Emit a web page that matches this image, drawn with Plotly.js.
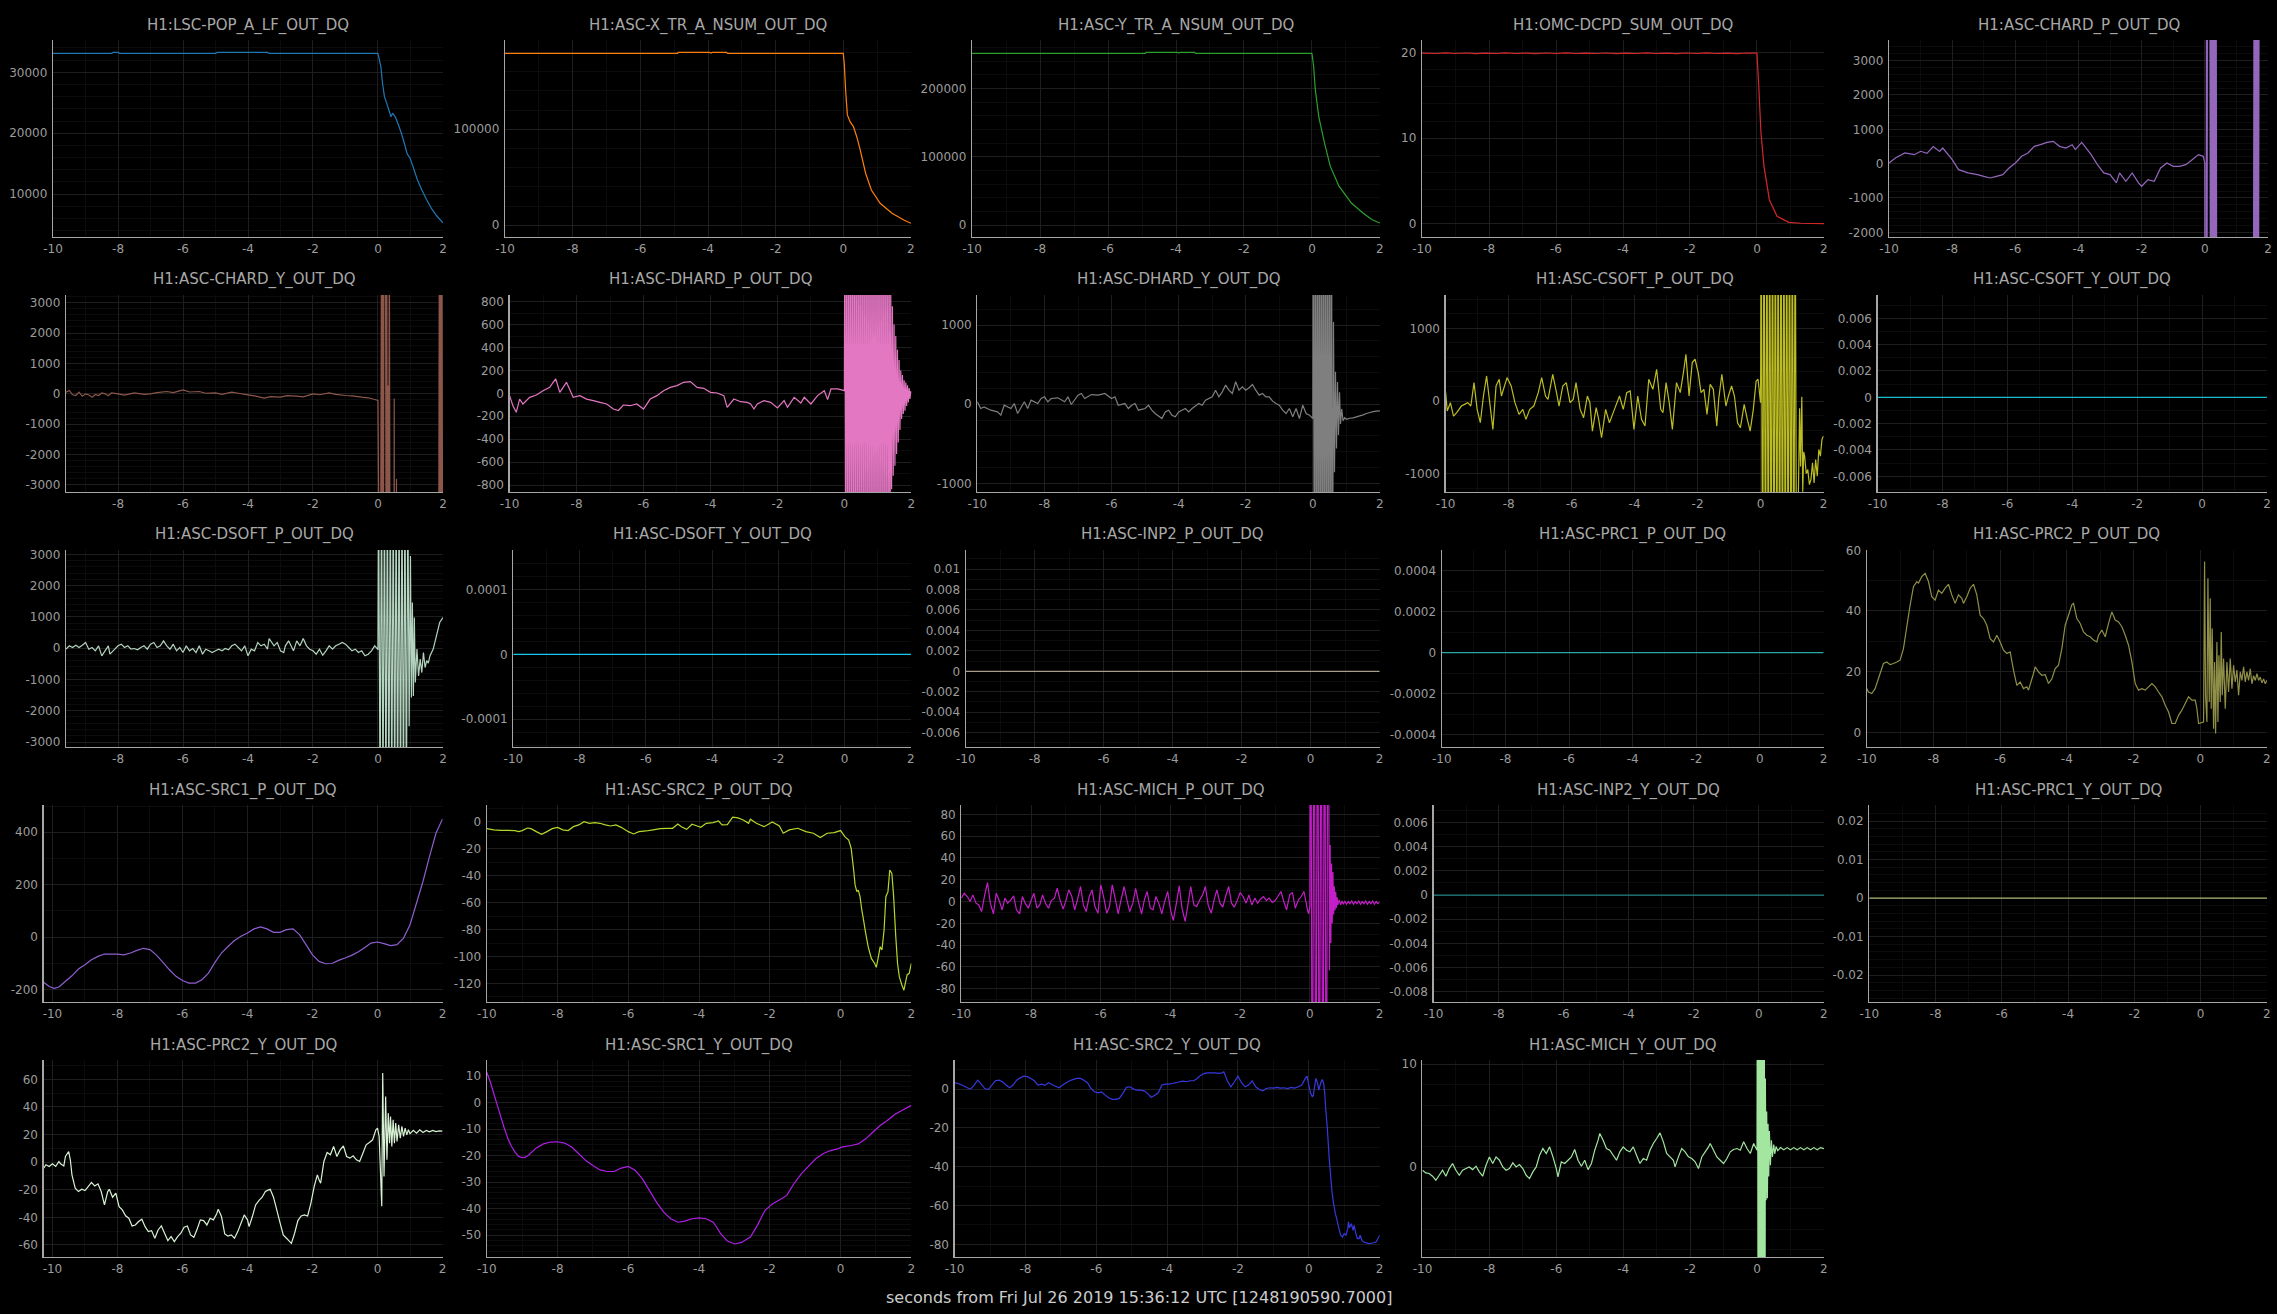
<!DOCTYPE html>
<html><head><meta charset="utf-8">
<script src="https://cdn.plot.ly/plotly-3.0.1.min.js"></script>
<style>html,body{margin:0;padding:0;background:#000;}#chart{width:2277px;height:1314px;}</style>
</head><body><div id="chart"></div>
<script>
// ---------- data: [seconds, value] pairs ----------
const lscPop=[[-10,33110],[-8.2,33110],[-8.15,33270],[-8.0,33270],[-7.95,33110],[-5.0,33110],[-4.95,33270],[-3.4,33270],[-3.35,33110],[0,33110],[0.09,30900],[0.14,28200],[0.2,26000],[0.27,24900],[0.32,24100],[0.4,22700],[0.45,23300],[0.54,22600],[0.63,21400],[0.72,20000],[0.81,18400],[0.9,16600],[0.99,15900],[1.08,14500],[1.21,12400],[1.35,10700],[1.5,9100],[1.64,7700],[1.8,6500],[2.0,5300]];
const xTrNsum=[[-10,179100],[-4.9,179100],[-4.88,180100],[-3.95,180100],[-3.92,179300],[-3.88,180100],[-3.45,180100],[-3.42,179100],[0,179100],[0.03,168000],[0.07,140000],[0.12,115000],[0.2,108000],[0.3,102800],[0.4,92000],[0.5,78500],[0.66,54200],[0.83,36800],[1.09,22900],[1.44,12500],[1.79,5560],[2.0,2080]];
const yTrNsum=[[-10,251700],[-4.9,251700],[-4.88,253200],[-3.95,253200],[-3.92,252000],[-3.88,253200],[-3.45,253200],[-3.42,251700],[0,251700],[0.05,232000],[0.1,198000],[0.2,159000],[0.37,120000],[0.54,85900],[0.8,56600],[1.16,32200],[1.5,17600],[1.77,7800],[2.0,2900]];
const omcDcpd=[[-10,19.95],[-9.6,19.9],[-9.3,19.97],[-9.0,19.9],[-8.7,19.96],[-8.4,19.88],[-8.1,19.95],[-7.8,19.9],[-7.5,19.97],[-7.2,19.9],[-6.9,19.95],[-6.6,19.88],[-6.3,19.96],[-6.0,19.9],[-5.7,19.97],[-5.4,19.9],[-5.1,19.95],[-4.8,19.9],[-4.5,19.96],[-4.2,19.89],[-3.9,19.95],[-3.6,19.9],[-3.3,19.97],[-3.0,19.9],[-2.7,19.95],[-2.4,19.88],[-2.1,19.96],[-1.8,19.9],[-1.5,19.97],[-1.2,19.9],[-0.9,19.95],[-0.6,19.88],[-0.3,19.96],[0,19.95],[0.05,16.4],[0.12,10.6],[0.21,6.7],[0.37,2.8],[0.6,0.86],[0.95,0.16],[1.3,0.05],[2.0,0.0]];
const chardP=[[-10,20],[-9.8,165],[-9.5,310],[-9.2,260],[-9.0,360],[-8.8,300],[-8.6,500],[-8.4,355],[-8.3,455],[-8.0,116],[-7.8,-175],[-7.5,-270],[-7.2,-320],[-7.0,-370],[-6.8,-417],[-6.6,-370],[-6.4,-320],[-6.2,-126],[-6.0,20],[-5.8,213],[-5.6,310],[-5.4,504],[-5.2,552],[-5.0,620],[-4.8,650],[-4.6,504],[-4.4,455],[-4.2,552],[-4.1,410],[-3.9,620],[-3.8,504],[-3.6,262],[-3.4,-29],[-3.2,-271],[-3.0,-320],[-2.8,-562],[-2.7,-271],[-2.5,-513],[-2.3,-271],[-2.1,-562],[-2.0,-659],[-1.8,-465],[-1.6,-513],[-1.4,-126],[-1.2,20],[-1.0,-77],[-0.8,-77],[-0.6,-29],[-0.4,116],[-0.2,262],[-0.05,213],[0,20],
 [0.005,-6000],[0.04,-6000],[0.055,6000],[0.07,-6000],[0.085,6000],[0.16,6000],[0.18,-6000],[0.2,6000],[0.22,-6000],[0.24,6000],[0.26,-6000],[0.28,6000],[0.3,-6000],[0.32,6000],[0.34,-6000],[0.36,6000],[0.38,-6000],[1.54,-6000],[1.56,6000],[1.58,-6000],[1.6,6000],[1.62,-6000],[1.64,6000],[1.66,-6000],[1.68,6000],[1.7,-6000],[1.72,6000],[2.0,6000]];
const chardY=[[-9.6,55],[-9.5,110],[-9.4,-30],[-9.3,-55],[-9.2,55],[-9.1,-80],[-9.0,0],[-8.9,-40],[-8.8,-110],[-8.7,-20],[-8.6,-55],[-8.5,30],[-8.4,0],[-8.3,-60],[-8.2,33],[-8.0,0],[-7.8,-40],[-7.5,33],[-7.2,-20],[-7.0,0],[-6.8,40],[-6.5,77],[-6.3,40],[-6.0,132],[-5.8,60],[-5.5,77],[-5.3,20],[-5.0,33],[-4.8,-20],[-4.5,55],[-4.3,20],[-4.0,-33],[-3.8,-70],[-3.5,-143],[-3.3,-90],[-3.0,-110],[-2.8,-60],[-2.5,-77],[-2.3,-100],[-2.0,0],[-1.8,-30],[-1.5,33],[-1.3,-20],[-1.0,-55],[-0.8,-70],[-0.5,-110],[-0.3,-130],[-0.1,-187],[0,-220],
 [0.04,-6000],[0.08,-6000],[0.11,6000],[0.13,-6000],[0.15,6000],[0.17,-6000],[0.185,6000],[0.23,6000],[0.25,-6000],[0.27,6000],[0.29,-6000],[0.31,275],[0.33,-6000],[0.35,6000],[0.37,-6000],[0.495,-6000],[0.5,-150],[0.505,-6000],[0.565,-6000],[0.57,-2800],[0.575,-6000],[1.87,-6000],[1.89,6000],[1.91,-6000],[1.93,6000],[1.95,-6000],[1.97,6000],[1.99,-6000],[2.0,-2360]];
const dhardP=[[-10,-20],[-9.9,-108],[-9.8,-166],[-9.7,-50],[-9.6,-93],[-9.4,-35],[-9.2,-15],[-9.0,23],[-8.8,52],[-8.7,96],[-8.62,125],[-8.5,9],[-8.4,52],[-8.3,96],[-8.1,-35],[-7.9,-20],[-7.7,-50],[-7.5,-64],[-7.3,-79],[-7.1,-93],[-6.9,-137],[-6.75,-150],[-6.6,-102],[-6.4,-108],[-6.2,-93],[-6.0,-137],[-5.8,-50],[-5.6,-20],[-5.4,23],[-5.2,52],[-5.0,67],[-4.8,96],[-4.6,102],[-4.4,52],[-4.2,44],[-4.0,9],[-3.8,3],[-3.6,-20],[-3.5,-122],[-3.3,-50],[-3.1,-73],[-2.9,-79],[-2.8,-93],[-2.7,-137],[-2.6,-93],[-2.4,-64],[-2.2,-79],[-2.0,-128],[-1.8,-64],[-1.7,-122],[-1.5,-35],[-1.3,-85],[-1.2,-35],[-1.0,-93],[-0.8,-20],[-0.6,23],[-0.5,-55],[-0.4,38],[-0.2,38],[0,23],
 [0.015,2000],[0.045,-2000],[0.075,2000],[0.105,-2000],[0.135,2000],[0.165,-2000],[0.195,2000],[0.225,-2000],[0.255,2000],[0.285,-2000],[0.315,2000],[0.345,-2000],[0.375,2000],[0.405,-2000],[0.435,2000],[0.465,-2000],[0.495,2000],[0.525,-2000],[0.555,2000],[0.585,-2000],[0.615,2000],[0.645,-2000],[0.675,2000],[0.705,-2000],[0.735,2000],[0.765,-2000],[0.795,2000],[0.825,-2000],[0.855,2000],[0.885,-2000],[0.915,2000],[0.945,-2000],[0.975,2000],[1.005,-2000],[1.035,2000],[1.065,-2000],[1.095,2000],[1.125,-2000],[1.155,2000],[1.185,-2000],[1.215,2000],[1.245,-2000],[1.275,2000],[1.305,-2000],[1.335,2000],
 [1.36,-2000],[1.385,900],[1.41,-836],[1.435,760],[1.46,-720],[1.485,600],[1.51,-633],[1.535,500],[1.56,-530],[1.585,380],[1.61,-428],[1.635,290],[1.66,-320],[1.685,200],[1.71,-224],[1.735,160],[1.76,-180],[1.785,115],[1.81,-151],[1.835,95],[1.86,-110],[1.885,70],[1.91,-79],[1.935,45],[1.96,-50],[1.985,20],[2.0,0]];
const dhardY=[[-10,30],[-9.9,-55],[-9.8,-34],[-9.6,-76],[-9.4,-97],[-9.3,-139],[-9.2,-13],[-9.0,-55],[-8.9,8],[-8.8,-118],[-8.6,30],[-8.5,-55],[-8.4,51],[-8.2,8],[-8.1,72],[-8.0,93],[-7.9,30],[-7.8,72],[-7.6,80],[-7.4,30],[-7.3,93],[-7.2,-4],[-7.0,114],[-6.9,135],[-6.8,72],[-6.6,122],[-6.4,114],[-6.2,135],[-6.0,72],[-5.9,93],[-5.8,-13],[-5.6,8],[-5.5,-55],[-5.4,-13],[-5.3,8],[-5.2,-76],[-5.0,-55],[-4.9,-13],[-4.8,-76],[-4.7,-118],[-4.5,-181],[-4.4,-97],[-4.3,-76],[-4.2,-139],[-4.1,-160],[-4.0,-97],[-3.8,-55],[-3.7,-97],[-3.6,-55],[-3.4,8],[-3.3,-13],[-3.2,51],[-3.0,93],[-2.9,177],[-2.8,93],[-2.7,156],[-2.6,241],[-2.5,177],[-2.4,135],[-2.3,283],[-2.2,177],[-2.1,219],[-2.0,177],[-1.9,207],[-1.8,249],[-1.7,177],[-1.6,114],[-1.5,135],[-1.4,93],[-1.3,93],[-1.2,38],[-1.1,8],[-1.0,-13],[-0.9,-76],[-0.8,-118],[-0.7,-55],[-0.6,-160],[-0.5,-55],[-0.4,-181],[-0.3,-13],[-0.2,-118],[-0.1,-139],[0,-181],
 [0.015,3000],[0.045,-3000],[0.075,3000],[0.105,-3000],[0.135,3000],[0.165,-3000],[0.195,3000],[0.225,-3000],[0.255,3000],[0.285,-3000],[0.315,3000],[0.345,-3000],[0.375,3000],[0.405,-3000],[0.435,3000],[0.465,-3000],[0.495,3000],[0.525,-3000],[0.555,3000],
 [0.585,-3000],[0.615,1040],[0.645,-860],[0.675,409],[0.705,-560],[0.735,280],[0.765,-390],[0.795,150],[0.825,-250],[0.86,-60],[0.9,-210],[0.95,-170],[1.0,-190],[1.1,-178],[1.2,-172],[1.3,-160],[1.4,-148],[1.5,-135],[1.6,-118],[1.7,-105],[1.8,-95],[1.9,-88],[2.0,-84]];
const csoftP=[[-10,115],[-9.95,-138],[-9.85,-23],[-9.75,-207],[-9.65,-161],[-9.5,-69],[-9.4,-46],[-9.3,-23],[-9.2,-69],[-9.1,253],[-9.0,-115],[-8.9,-299],[-8.8,69],[-8.7,345],[-8.6,-23],[-8.5,-391],[-8.4,207],[-8.3,299],[-8.23,69],[-8.05,322],[-7.92,207],[-7.8,-23],[-7.67,-184],[-7.55,-115],[-7.45,-253],[-7.33,-115],[-7.2,-69],[-7.06,115],[-6.95,322],[-6.83,69],[-6.75,23],[-6.6,368],[-6.48,115],[-6.4,-69],[-6.28,207],[-6.17,253],[-6.05,-23],[-5.95,23],[-5.86,253],[-5.73,-115],[-5.62,-230],[-5.5,69],[-5.42,-23],[-5.34,-414],[-5.22,-92],[-5.14,-253],[-5.05,-506],[-4.92,-115],[-4.8,-299],[-4.64,-115],[-4.48,69],[-4.36,-115],[-4.25,115],[-4.14,138],[-4.02,-391],[-3.9,69],[-3.78,-253],[-3.67,-345],[-3.55,299],[-3.42,161],[-3.3,437],[-3.17,-115],[-3.1,-161],[-3.0,253],[-2.9,-23],[-2.8,-391],[-2.67,253],[-2.55,115],[-2.45,391],[-2.37,644],[-2.27,69],[-2.17,529],[-2.08,575],[-1.98,391],[-1.89,115],[-1.8,161],[-1.7,-184],[-1.6,230],[-1.5,161],[-1.39,-345],[-1.33,23],[-1.23,368],[-1.1,-69],[-1.02,69],[-0.92,207],[-0.83,69],[-0.73,-299],[-0.64,-368],[-0.52,-46],[-0.42,-253],[-0.33,-414],[-0.23,-115],[-0.14,276],[-0.08,299],[0,-23],
 [0.02,3000],[0.065,-3000],[0.11,3000],[0.155,-3000],[0.2,3000],[0.245,-3000],[0.29,3000],[0.335,-3000],[0.38,3000],[0.425,-3000],[0.47,3000],[0.515,-3000],[0.56,3000],[0.605,-3000],[0.65,3000],[0.695,-3000],[0.74,3000],[0.785,-3000],[0.83,3000],[0.875,-3000],[0.92,3000],[0.965,-3000],[1.01,3000],[1.055,-3000],[1.1,3000],[1.145,-3000],
 [1.24,-100],[1.27,-900],[1.31,60],[1.34,-1250],[1.37,-700],[1.4,-759],[1.45,-1000],[1.5,-943],[1.55,-1150],[1.6,-1081],[1.65,-851],[1.7,-1127],[1.75,-805],[1.8,-1035],[1.85,-667],[1.9,-759],[1.95,-529],[2.0,-483]];
const csoftY=[[-10,0],[2,0]];
const dsoftP=[[-9.6,-32],[-9.5,75],[-9.4,21],[-9.3,96],[-9.2,21],[-9.1,96],[-9.0,181],[-8.9,-32],[-8.8,21],[-8.7,-85],[-8.6,75],[-8.5,-245],[-8.4,-85],[-8.3,75],[-8.25,-192],[-8.1,-32],[-8.0,75],[-7.9,128],[-7.8,21],[-7.7,75],[-7.6,-32],[-7.5,-11],[-7.4,-53],[-7.3,21],[-7.2,75],[-7.1,-32],[-7.0,128],[-6.9,181],[-6.8,21],[-6.7,75],[-6.6,235],[-6.5,75],[-6.4,-32],[-6.3,128],[-6.2,-85],[-6.1,21],[-6.0,-139],[-5.9,75],[-5.8,-85],[-5.7,-11],[-5.6,-139],[-5.5,75],[-5.4,-192],[-5.3,-32],[-5.2,-85],[-5.1,-139],[-5.0,-85],[-4.9,-32],[-4.8,-85],[-4.7,-11],[-4.6,-53],[-4.5,75],[-4.4,128],[-4.3,21],[-4.2,-85],[-4.1,75],[-4.0,-245],[-3.9,-32],[-3.8,-85],[-3.7,181],[-3.6,75],[-3.5,128],[-3.4,-32],[-3.35,309],[-3.2,75],[-3.1,181],[-3.0,-85],[-2.9,-139],[-2.85,75],[-2.75,235],[-2.65,21],[-2.6,-85],[-2.5,235],[-2.4,75],[-2.3,309],[-2.2,75],[-2.1,-32],[-2.0,-85],[-1.9,-192],[-1.8,-32],[-1.7,-224],[-1.6,-85],[-1.5,75],[-1.4,-32],[-1.3,75],[-1.2,128],[-1.1,181],[-1.0,128],[-0.9,21],[-0.8,-85],[-0.7,-32],[-0.6,-139],[-0.5,-85],[-0.4,-245],[-0.3,-192],[-0.2,-85],[-0.1,75],[0,-50],
 [0.02,5000],[0.065,-5000],[0.11,5000],[0.155,-5000],[0.2,5000],[0.245,-5000],[0.29,5000],[0.335,-5000],[0.38,5000],[0.425,-5000],[0.47,5000],[0.515,-5000],[0.56,5000],[0.605,-5000],[0.65,5000],[0.695,-5000],[0.74,5000],[0.785,-5000],[0.83,5000],[0.875,-5000],
 [0.92,5000],[0.96,-2500],[1.0,2950],[1.03,-1580],[1.06,1460],[1.09,-1530],[1.12,980],[1.15,-1100],[1.2,-30],[1.25,-885],[1.3,-350],[1.35,-780],[1.4,-140],[1.45,-620],[1.5,-400],[1.55,-480],[1.6,-250],[1.7,-30],[1.8,395],[1.9,820],[2.0,980]];
const dsoftY=[[-10,0],[2,0]];
const inp2P=[[-10,0],[2,0]];
const prc1P=[[-10,0],[2,0]];
const prc2P=[[-10,14.4],[-9.95,13.3],[-9.85,12.8],[-9.75,14.4],[-9.6,19.4],[-9.5,22.7],[-9.4,23.2],[-9.3,22.3],[-9.2,22.7],[-9.1,23.2],[-9.0,23.8],[-8.9,27.6],[-8.8,34.8],[-8.7,41.9],[-8.6,48.0],[-8.5,49.7],[-8.45,49.2],[-8.35,51.3],[-8.25,52.4],[-8.15,49.7],[-8.05,44.7],[-7.95,43.6],[-7.85,46.9],[-7.75,45.8],[-7.65,47.5],[-7.55,48.8],[-7.45,45.3],[-7.35,42.5],[-7.25,45.3],[-7.15,44.2],[-7.1,42.5],[-7.0,44.7],[-6.9,47.5],[-6.8,48.8],[-6.7,45.3],[-6.6,38.6],[-6.5,37.5],[-6.4,35.3],[-6.3,30.9],[-6.2,29.8],[-6.1,32.0],[-6.0,29.8],[-5.9,27.1],[-5.8,26.0],[-5.7,26.5],[-5.6,20.5],[-5.5,15.5],[-5.4,16.6],[-5.3,14.4],[-5.2,15.0],[-5.15,13.9],[-5.0,19.4],[-4.95,21.6],[-4.85,19.9],[-4.75,18.8],[-4.65,19.0],[-4.55,16.1],[-4.45,17.6],[-4.35,21.0],[-4.25,22.1],[-4.15,27.6],[-4.05,35.3],[-3.95,38.6],[-3.85,42.0],[-3.8,42.5],[-3.7,37.5],[-3.6,35.9],[-3.5,33.1],[-3.4,32.0],[-3.3,31.5],[-3.2,30.4],[-3.1,29.8],[-3.05,32.0],[-2.95,33.7],[-2.85,31.5],[-2.75,35.9],[-2.65,39.7],[-2.55,37.0],[-2.45,36.4],[-2.35,34.8],[-2.25,32.0],[-2.15,28.7],[-2.05,23.2],[-1.95,16.1],[-1.85,13.9],[-1.75,14.4],[-1.65,13.9],[-1.55,15.0],[-1.45,16.1],[-1.35,15.0],[-1.25,13.3],[-1.15,11.7],[-1.05,8.9],[-0.95,6.7],[-0.85,2.9],[-0.75,2.9],[-0.65,5.6],[-0.55,7.3],[-0.45,9.5],[-0.35,11.7],[-0.25,10.6],[-0.15,10.6],[-0.1,7.8],[-0.05,2.9],
 [0.1,3.4],[0.13,56.3],[0.16,12.1],[0.2,3.4],[0.23,50.8],[0.27,10.0],[0.3,44.2],[0.33,7.8],[0.36,34.2],[0.4,1.2],[0.43,23.2],[0.46,-0.4],[0.5,29.8],[0.53,3.4],[0.56,25.4],[0.6,10.0],[0.63,33.1],[0.66,12.2],[0.7,24.3],[0.75,7.8],[0.8,23.2],[0.85,13.3],[0.9,24.3],[0.95,14.4],[1.0,22.1],[1.05,16.6],[1.1,20.5],[1.15,12.2],[1.2,19.9],[1.25,17.1],[1.3,21.6],[1.35,16.6],[1.4,19.9],[1.45,17.1],[1.5,20.9],[1.55,16.0],[1.6,18.7],[1.65,17.1],[1.7,19.3],[1.75,17.1],[1.8,18.2],[1.85,16.3],[1.9,17.6],[1.95,16.0],[2.0,17.2]];
const src1P=[[-10.27,-173],[-10.1,-189],[-9.95,-196],[-9.8,-191],[-9.6,-169],[-9.4,-148],[-9.2,-122],[-9.0,-106],[-8.8,-87],[-8.6,-74],[-8.4,-65],[-8.2,-65],[-8.0,-65],[-7.8,-68],[-7.6,-61],[-7.4,-51],[-7.2,-43],[-7.0,-48],[-6.8,-69],[-6.6,-97],[-6.4,-125],[-6.2,-150],[-6.0,-166],[-5.8,-176],[-5.6,-176],[-5.4,-163],[-5.2,-138],[-5.0,-97],[-4.8,-61],[-4.6,-36],[-4.4,-13],[-4.2,3],[-4.0,15],[-3.8,31],[-3.6,39],[-3.4,31],[-3.2,18],[-3.0,18],[-2.8,28],[-2.6,31],[-2.4,9],[-2.2,-29],[-2.0,-68],[-1.8,-93],[-1.6,-102],[-1.4,-101],[-1.2,-89],[-1.0,-80],[-0.8,-70],[-0.6,-57],[-0.4,-41],[-0.2,-23],[0.0,-19],[0.2,-25],[0.4,-33],[0.6,-29],[0.8,-4],[1.0,47],[1.2,130],[1.4,213],[1.6,308],[1.8,397],[2.0,451]];
const src2P=[[-10,-5],[-9.8,-5.9],[-9.6,-6.2],[-9.4,-6.2],[-9.2,-6.4],[-9.1,-7.2],[-9.0,-6.4],[-8.85,-4.5],[-8.75,-5],[-8.6,-7.2],[-8.45,-9.2],[-8.3,-7.2],[-8.15,-5],[-8.0,-4],[-7.85,-5.9],[-7.7,-6.4],[-7.55,-3.5],[-7.4,-2.2],[-7.25,0.25],[-7.1,-1],[-6.95,-0.5],[-6.8,-1],[-6.65,-2.2],[-6.5,-3],[-6.35,-2.2],[-6.2,-4],[-6.0,-7.2],[-5.85,-8.9],[-5.7,-7.2],[-5.5,-6.7],[-5.3,-5.9],[-5.1,-5],[-4.9,-4.7],[-4.75,-4.7],[-4.6,-1.5],[-4.5,-3.5],[-4.35,-5.5],[-4.2,-1.7],[-4.05,-3],[-3.95,-4],[-3.8,-1],[-3.6,-0.5],[-3.45,0.7],[-3.35,-2.2],[-3.2,-2],[-3.05,3.5],[-2.9,3],[-2.75,1.5],[-2.6,-1],[-2.55,2],[-2.38,-1],[-2.16,-3.5],[-1.93,0],[-1.73,-3],[-1.62,-8.4],[-1.45,-5.9],[-1.21,-4.7],[-0.98,-7.2],[-0.77,-8.4],[-0.57,-11.6],[-0.38,-8.4],[-0.18,-7.9],[0,-6.4],[0.12,-10.9],[0.23,-13.4],[0.3,-19.6],[0.37,-35.7],[0.41,-46.8],[0.46,-51.8],[0.5,-50.6],[0.55,-55.5],[0.6,-65.4],[0.65,-72.9],[0.71,-82.8],[0.78,-92.7],[0.87,-101.4],[0.96,-105],[1.01,-108],[1.06,-101.4],[1.12,-92.7],[1.17,-95.2],[1.23,-80.3],[1.28,-55.5],[1.34,-51.8],[1.39,-35.7],[1.45,-38.2],[1.5,-55.5],[1.56,-85],[1.61,-105],[1.66,-115],[1.73,-121],[1.79,-125],[1.84,-118.7],[1.88,-113.7],[1.94,-112.5],[2.0,-105]];
const michP=[[-10,3.1],[-9.92,7.6],[-9.83,4.6],[-9.75,0],[-9.67,6.1],[-9.58,-1.5],[-9.5,-3.1],[-9.42,-9.2],[-9.33,6.1],[-9.25,17.4],[-9.17,-1.5],[-9.08,-11.3],[-9.0,7.6],[-8.92,1.5],[-8.83,-7.6],[-8.75,3.1],[-8.67,-1.5],[-8.58,1.5],[-8.5,5.2],[-8.42,-7.6],[-8.33,-11.3],[-8.25,4.6],[-8.17,-1.5],[-8.08,-6.1],[-8.0,0.9],[-7.92,7.6],[-7.83,-6.1],[-7.75,-3.1],[-7.67,6.1],[-7.58,-2.1],[-7.5,-6.1],[-7.42,0.9],[-7.33,3.1],[-7.25,12.2],[-7.17,1.5],[-7.08,-7.0],[-7.0,0.9],[-6.92,10.7],[-6.83,4.6],[-6.75,-7.6],[-6.67,1.5],[-6.58,13.8],[-6.5,-3.1],[-6.42,-9.2],[-6.33,4.6],[-6.25,10.7],[-6.17,-4.6],[-6.08,-10.7],[-6.0,15.3],[-5.92,4.6],[-5.83,-10.7],[-5.75,-4.6],[-5.67,15.3],[-5.58,1.5],[-5.5,-11.3],[-5.42,1.5],[-5.33,13.8],[-5.25,1.5],[-5.17,-9.2],[-5.08,-1.5],[-5.0,12.2],[-4.92,0],[-4.83,-11.3],[-4.75,1.5],[-4.67,9.2],[-4.58,-6.1],[-4.5,-7.6],[-4.42,4.6],[-4.33,-2.1],[-4.25,-11.3],[-4.17,0],[-4.08,9.2],[-4.0,-7.6],[-3.92,-17.4],[-3.83,-1.5],[-3.75,14.4],[-3.67,-6.1],[-3.58,-18.3],[-3.5,-3.1],[-3.42,13.8],[-3.33,-3.1],[-3.25,-4.6],[-3.17,0.9],[-3.08,6.1],[-3.0,13.8],[-2.92,-3.1],[-2.83,-10.7],[-2.75,1.5],[-2.67,10.7],[-2.58,-1.5],[-2.5,-5.2],[-2.42,4.6],[-2.33,13.8],[-2.25,-1.5],[-2.17,-5.2],[-2.08,1.5],[-2.0,8.3],[-1.92,4.6],[-1.83,-1.5],[-1.75,6.1],[-1.67,-3.1],[-1.58,3.1],[-1.5,-1.5],[-1.42,2.1],[-1.33,4.6],[-1.25,0.9],[-1.17,3.1],[-1.08,-0.9],[-1.0,0.9],[-0.92,4.6],[-0.83,9.2],[-0.75,0],[-0.67,-7.6],[-0.58,6.1],[-0.5,8.3],[-0.42,-6.1],[-0.33,1.5],[-0.25,4.6],[-0.17,9.2],[-0.08,-6.1],[-0.04,-11.3],[0,-4.6],
 [0.02,300],[0.07,-300],[0.12,300],[0.17,-300],[0.22,300],[0.27,-300],[0.32,300],[0.37,-300],[0.42,300],[0.47,-300],[0.52,300],
 [0.56,-63],[0.58,52],[0.6,-38],[0.62,35],[0.64,-20],[0.66,27],[0.68,-12],[0.7,14],[0.72,-8],[0.74,9],[0.76,-6],[0.78,4],[0.8,-3],[0.84,1.5],[0.88,-3],[0.92,0.5],[0.96,-2.5],[1.0,0.5],[1.05,-2.5],[1.1,0],[1.15,-2],[1.2,0.5],[1.25,-2.5],[1.3,0],[1.35,-2],[1.4,0.5],[1.45,-2.5],[1.5,0],[1.55,-2],[1.6,0.5],[1.65,-2.5],[1.7,0],[1.75,-2],[1.8,0.5],[1.85,-2.5],[1.9,0],[1.95,-2],[2.0,-0.5]];
const inp2Y=[[-10,0],[2,0]];
const prc1Y=[[-10,0],[2,0]];
const prc2Y=[[-10.27,-4.4],[-10.2,-1.9],[-10.1,-3.1],[-10.0,-1.2],[-9.9,-3.1],[-9.8,0.5],[-9.75,-1.2],[-9.65,-2.7],[-9.6,4.1],[-9.5,7.7],[-9.45,1.7],[-9.4,-9.2],[-9.3,-18.9],[-9.2,-21.3],[-9.1,-19.6],[-9.0,-20.6],[-8.9,-17.7],[-8.8,-14.7],[-8.7,-17.2],[-8.6,-15.7],[-8.5,-21.3],[-8.4,-31.0],[-8.3,-21.3],[-8.25,-19.6],[-8.15,-25.4],[-8.05,-22.5],[-7.95,-32.2],[-7.85,-34.6],[-7.75,-38.9],[-7.65,-40.6],[-7.55,-46.2],[-7.45,-45.5],[-7.35,-43.0],[-7.25,-41.3],[-7.15,-46.7],[-7.05,-50.3],[-6.95,-49.6],[-6.85,-55.1],[-6.75,-49.1],[-6.65,-46.2],[-6.55,-51.5],[-6.45,-56.8],[-6.35,-53.9],[-6.25,-57.5],[-6.15,-53.9],[-6.05,-51.5],[-5.95,-47.1],[-5.85,-46.2],[-5.75,-52.7],[-5.65,-54.4],[-5.55,-48.6],[-5.45,-41.8],[-5.35,-42.3],[-5.25,-45.5],[-5.15,-40.6],[-5.05,-41.8],[-4.95,-37.5],[-4.9,-34.1],[-4.8,-39.4],[-4.7,-52.0],[-4.6,-53.5],[-4.5,-52.7],[-4.4,-55.1],[-4.3,-50.3],[-4.2,-44.2],[-4.1,-38.2],[-4.0,-41.8],[-3.95,-46.7],[-3.85,-39.4],[-3.75,-31.0],[-3.65,-27.8],[-3.55,-25.4],[-3.45,-21.3],[-3.35,-20.1],[-3.3,-19.6],[-3.2,-25.4],[-3.1,-34.6],[-3.0,-43.8],[-2.9,-52.7],[-2.8,-55.1],[-2.7,-57.5],[-2.65,-58.8],[-2.55,-51.5],[-2.45,-42.3],[-2.35,-39.0],[-2.25,-38.2],[-2.15,-39.0],[-2.05,-29.8],[-1.95,-17.7],[-1.85,-9.2],[-1.8,-12.8],[-1.75,-15.2],[-1.65,0.5],[-1.55,7.0],[-1.45,5.3],[-1.35,11.4],[-1.25,4.1],[-1.15,8.9],[-1.05,11.8],[-0.95,4.1],[-0.85,2.9],[-0.75,4.6],[-0.65,1.7],[-0.55,0.5],[-0.45,6.5],[-0.35,12.6],[-0.25,14.3],[-0.15,16.2],[-0.05,23.5],[0.0,24.7],
 [0.05,18.6],[0.1,-12.8],[0.13,-32.0],[0.16,64.6],[0.2,-10.4],[0.25,47.6],[0.29,1.7],[0.33,35.5],[0.37,13.8],[0.4,33.1],[0.44,11.4],[0.48,30.7],[0.52,13.8],[0.56,28.3],[0.6,15.0],[0.65,27.1],[0.7,17.4],[0.75,25.9],[0.8,18.6],[0.85,24.7],[0.9,19.8],[0.95,23.5],[1.0,20.6],[1.1,23.0],[1.2,21.0],[1.3,23.5],[1.4,21.5],[1.5,23.0],[1.6,22.0],[1.7,23.0],[1.8,22.2],[1.9,22.7],[2.0,22.5]];
const src1Y=[[-10,11.4],[-9.9,7.7],[-9.8,3.3],[-9.7,-1.1],[-9.6,-5.5],[-9.5,-9.9],[-9.4,-13.7],[-9.3,-16.6],[-9.2,-18.7],[-9.1,-20.3],[-9.0,-20.8],[-8.9,-20.6],[-8.8,-19.6],[-8.6,-17.1],[-8.4,-15.6],[-8.2,-14.9],[-8.0,-14.8],[-7.8,-15.3],[-7.6,-16.8],[-7.4,-19.3],[-7.2,-21.9],[-7.0,-23.7],[-6.8,-25.4],[-6.6,-26.0],[-6.4,-26.0],[-6.2,-24.7],[-6.0,-24.1],[-5.8,-25.6],[-5.6,-28.8],[-5.4,-33.2],[-5.2,-37.6],[-5.0,-41.3],[-4.8,-43.8],[-4.6,-45.1],[-4.4,-44.7],[-4.2,-43.8],[-4.0,-43.5],[-3.8,-43.8],[-3.6,-45.1],[-3.5,-47.0],[-3.4,-49.2],[-3.2,-52.2],[-3.0,-53.3],[-2.8,-52.7],[-2.55,-50.7],[-2.34,-46.0],[-2.14,-40.7],[-1.93,-38.2],[-1.73,-36.7],[-1.52,-35.0],[-1.32,-30.6],[-1.11,-26.9],[-0.91,-24.1],[-0.7,-21.2],[-0.5,-19.3],[-0.29,-18.1],[-0.09,-17.5],[0.03,-16.8],[0.3,-16.2],[0.5,-15.6],[0.71,-13.7],[0.91,-11.2],[1.12,-8.7],[1.32,-6.8],[1.53,-4.5],[1.73,-3.0],[2.0,-1.1]];
const src2Y=[[-10,3.3],[-9.9,2.9],[-9.8,2.1],[-9.7,1.2],[-9.6,0.3],[-9.55,0],[-9.45,2.1],[-9.35,4.6],[-9.25,2.6],[-9.15,0.3],[-9.05,-0.2],[-8.95,2.1],[-8.85,4.3],[-8.75,4.6],[-8.65,3.8],[-8.55,2.1],[-8.45,0.7],[-8.35,2.1],[-8.25,4.6],[-8.15,5.8],[-8.05,6.7],[-7.95,6.4],[-7.85,5.5],[-7.75,4.3],[-7.65,2.1],[-7.55,2.6],[-7.45,1.9],[-7.35,3.3],[-7.25,2.4],[-7.15,1.5],[-7.05,0.7],[-6.95,2.1],[-6.85,3.3],[-6.75,4.3],[-6.65,5.0],[-6.55,5.5],[-6.45,5.5],[-6.35,4.6],[-6.25,3.3],[-6.15,0.3],[-6.05,-1.4],[-5.95,-1.9],[-5.85,-1.5],[-5.75,-3.1],[-5.65,-4.5],[-5.55,-5.3],[-5.45,-5.3],[-5.35,-4.8],[-5.25,-2.2],[-5.15,0.9],[-5.05,1.2],[-4.95,0],[-4.85,-0.5],[-4.75,-0.5],[-4.65,-0.9],[-4.55,-2.2],[-4.45,-4.3],[-4.35,-3.1],[-4.25,-1.9],[-4.15,2.1],[-4.05,2.6],[-3.95,2.6],[-3.85,2.9],[-3.75,3.3],[-3.65,3.8],[-3.55,4.1],[-3.45,3.8],[-3.35,4.3],[-3.25,4.3],[-3.15,5.5],[-3.05,7.2],[-2.95,8.1],[-2.85,8.4],[-2.75,8.4],[-2.65,8.4],[-2.55,8.1],[-2.45,8.4],[-2.4,8.9],[-2.3,4.3],[-2.2,1.2],[-2.1,3.8],[-2.0,6.7],[-1.9,3.3],[-1.8,1.2],[-1.7,2.1],[-1.6,4.3],[-1.5,1.2],[-1.4,-0.2],[-1.3,-0.9],[-1.2,0.3],[-1.1,0.7],[-1.0,0.5],[-0.9,0.9],[-0.8,0.5],[-0.7,0.7],[-0.6,0.3],[-0.5,0.9],[-0.4,0.5],[-0.3,1.2],[-0.2,2.1],[-0.1,5.5],[-0.05,6.7],[0,2.1],[0.05,-2.2],[0.1,-4.0],[0.13,-3.1],[0.17,2.1],[0.2,5.5],[0.25,2.9],[0.28,-0.5],[0.32,2.1],[0.35,3.8],[0.38,5.0],[0.42,2.9],[0.45,-2.2],[0.48,-10.8],[0.52,-19.4],[0.55,-28.0],[0.58,-36.6],[0.62,-45.2],[0.65,-52.1],[0.7,-59.0],[0.75,-64.2],[0.8,-67.6],[0.85,-71.9],[0.9,-75.3],[0.95,-76.2],[1.0,-74.5],[1.05,-75.3],[1.1,-71.9],[1.12,-68.4],[1.15,-71.4],[1.2,-69.3],[1.25,-72.8],[1.28,-70.2],[1.33,-74.5],[1.37,-77.0],[1.42,-77.0],[1.45,-75.3],[1.5,-77.9],[1.55,-78.8],[1.6,-79.1],[1.7,-79.6],[1.8,-79.3],[1.9,-78.8],[1.95,-77.1],[2.0,-75.3]];
const michY=[[-10,-0.29],[-9.9,-0.55],[-9.8,-0.61],[-9.7,-0.87],[-9.6,-1.26],[-9.5,-0.78],[-9.4,-0.29],[-9.3,-0.87],[-9.2,-0.13],[-9.1,0.36],[-9.0,-0.29],[-8.9,-0.78],[-8.8,-0.29],[-8.7,-0.13],[-8.6,0.03],[-8.5,-0.23],[-8.4,0.1],[-8.3,-0.45],[-8.2,-0.87],[-8.1,0.19],[-8.0,1.0],[-7.9,0.36],[-7.8,1.0],[-7.7,0.68],[-7.6,0.03],[-7.5,-0.29],[-7.4,-0.13],[-7.3,0.42],[-7.2,0.03],[-7.1,0.26],[-7.0,-0.13],[-6.9,-0.78],[-6.8,-1.1],[-6.7,-0.45],[-6.6,0.03],[-6.5,1.16],[-6.4,1.81],[-6.3,1.33],[-6.2,1.97],[-6.1,1.0],[-6.0,-0.13],[-5.95,-0.94],[-5.85,0.52],[-5.75,0.36],[-5.65,0.68],[-5.55,1.0],[-5.45,1.72],[-5.35,0.68],[-5.25,0.1],[-5.15,0.68],[-5.05,-0.23],[-4.95,0.36],[-4.85,1.65],[-4.75,2.62],[-4.7,3.27],[-4.6,2.62],[-4.5,1.81],[-4.4,1.65],[-4.3,1.16],[-4.2,0.68],[-4.1,1.49],[-4.0,1.97],[-3.9,1.65],[-3.8,1.49],[-3.7,1.97],[-3.6,1.16],[-3.5,0.36],[-3.4,0.84],[-3.3,0.68],[-3.2,1.65],[-3.1,2.3],[-3.0,2.78],[-2.9,3.33],[-2.8,2.46],[-2.7,1.33],[-2.6,1.0],[-2.5,0.68],[-2.45,0.03],[-2.35,1.0],[-2.25,1.81],[-2.15,1.49],[-2.05,1.0],[-1.95,0.84],[-1.85,0.52],[-1.75,-0.13],[-1.65,1.0],[-1.55,1.49],[-1.45,1.97],[-1.4,2.3],[-1.3,1.65],[-1.2,1.0],[-1.1,0.68],[-1.0,0.36],[-0.9,0.84],[-0.8,1.49],[-0.7,1.72],[-0.6,1.81],[-0.5,1.65],[-0.4,2.46],[-0.3,1.81],[-0.2,1.33],[-0.1,2.3],[0,1.65],
 [0.0125,30],[0.0375,-30],[0.0625,30],[0.0875,-30],[0.1125,30],[0.1375,-30],[0.1625,30],[0.1875,-30],[0.2125,30],[0.235,-30],
 [0.25,8.6],[0.27,-3.2],[0.29,5.4],[0.31,-3.0],[0.33,4.2],[0.35,-0.9],[0.37,3.5],[0.4,0.2],[0.43,2.6],[0.46,1.0],[0.5,2.2],[0.53,1.3],[0.57,2.0],[0.62,1.6],[0.7,1.9],[0.8,1.7],[0.9,1.9],[1.0,1.7],[1.1,1.9],[1.2,1.7],[1.3,1.9],[1.4,1.7],[1.5,1.9],[1.6,1.7],[1.7,1.9],[1.8,1.7],[1.9,1.9],[2.0,1.8]];

// ---------- y tick values per panel ----------
const ytLscPop=[10000,20000,30000];
const ytXTr=[0,100000];
const ytYTr=[0,100000,200000];
const ytOmc=[0,10,20];
const ytChardP=[-2000,-1000,0,1000,2000,3000];
const ytK3000=[-3000,-2000,-1000,0,1000,2000,3000];
const ytDhardP=[-800,-600,-400,-200,0,200,400,600,800];
const ytK1000=[-1000,0,1000];
const ytCsoftY=[-0.006,-0.004,-0.002,0,0.002,0.004,0.006];
const ytDsoftY=[-0.0001,0,0.0001];
const ytInp2P=[-0.006,-0.004,-0.002,0,0.002,0.004,0.006,0.008,0.01];
const ytPrc1P=[-0.0004,-0.0002,0,0.0002,0.0004];
const ytPrc2P=[0,20,40,60];
const ytSrc1P=[-200,0,200,400];
const ytSrc2P=[-120,-100,-80,-60,-40,-20,0];
const ytMichP=[-80,-60,-40,-20,0,20,40,60,80];
const ytInp2Y=[-0.008,-0.006,-0.004,-0.002,0,0.002,0.004,0.006];
const ytPrc1Y=[-0.02,-0.01,0,0.01,0.02];
const ytPrc2Y=[-60,-40,-20,0,20,40,60];
const ytSrc1Y=[-50,-40,-30,-20,-10,0,10];
const ytSrc2Y=[-80,-60,-40,-20,0];
const ytMichY=[0,10];
const xTicks=[-10,-8,-6,-4,-2,0,2];

// ---------- panel layout (pixel frame positions, axis ranges, styles) ----------
const W=2277,H=1314;
const rowTop=[40,295,550,805,1060], rowBot=[237,492,747,1002,1257];
const panels=[
 {t:'H1:LSC-POP_A_LF_OUT_DQ',d:lscPop,c:'#1f77b4',r:0,px:[53,443],xr:[-10,2],yr:[2973,35300],yt:ytLscPop,ym:2000},
 {t:'H1:ASC-X_TR_A_NSUM_OUT_DQ',d:xTrNsum,c:'#ff7f0e',r:0,px:[505,911],xr:[-10,2],yr:[-12200,193000],yt:ytXTr,ym:20000},
 {t:'H1:ASC-Y_TR_A_NSUM_OUT_DQ',d:yTrNsum,c:'#2ca02c',r:0,px:[972,1380],xr:[-10,2],yr:[-17560,271200],yt:ytYTr,ym:20000},
 {t:'H1:OMC-DCPD_SUM_OUT_DQ',d:omcDcpd,c:'#d62728',r:0,px:[1422,1824],xr:[-10,2],yr:[-1.56,21.48],yt:ytOmc,ym:2},
 {t:'H1:ASC-CHARD_P_OUT_DQ',d:chardP,c:'#9467bd',r:0,px:[1889,2268],xr:[-10,2],yr:[-2136,3600],yt:ytChardP,ym:200},
 {t:'H1:ASC-CHARD_Y_OUT_DQ',d:chardY,c:'#8c564b',r:1,px:[66,443],xr:[-9.6,2],yr:[-3231,3253],yt:ytK3000,ym:200},
 {t:'H1:ASC-DHARD_P_OUT_DQ',d:dhardP,c:'#e377c2',r:1,px:[509.5,911.4],xr:[-10,2],yr:[-861,858],yt:ytDhardP,ym:100},
 {t:'H1:ASC-DHARD_Y_OUT_DQ',d:dhardY,c:'#7f7f7f',r:1,px:[977.3,1380],xr:[-10,2],yr:[-1110,1380],yt:ytK1000,ym:200},
 {t:'H1:ASC-CSOFT_P_OUT_DQ',d:csoftP,c:'#bcbd22',r:1,px:[1445.6,1823.6],xr:[-10,2],yr:[-1253,1460],yt:ytK1000,ym:200},
 {t:'H1:ASC-CSOFT_Y_OUT_DQ',d:csoftY,c:'#17becf',r:1,px:[1877.6,2267],xr:[-10,2],yr:[-0.00719,0.00777],yt:ytCsoftY,ym:0.001},
 {t:'H1:ASC-DSOFT_P_OUT_DQ',d:dsoftP,c:'#b2d3bd',r:2,px:[66,443],xr:[-9.6,2],yr:[-3160,3139],yt:ytK3000,ym:200},
 {t:'H1:ASC-DSOFT_Y_OUT_DQ',d:dsoftY,c:'#18c8f0',r:2,px:[513.3,911],xr:[-10,2],yr:[-0.0001427,0.0001607],yt:ytDsoftY,ym:0.00002},
 {t:'H1:ASC-INP2_P_OUT_DQ',d:inp2P,c:'#a89c8c',r:2,px:[965.7,1379.7],xr:[-10,2],yr:[-0.0074,0.01186],yt:ytInp2P,ym:0.001},
 {t:'H1:ASC-PRC1_P_OUT_DQ',d:prc1P,c:'#2aa8a4',r:2,px:[1441.7,1823.6],xr:[-10,2],yr:[-0.00046,0.000501],yt:ytPrc1P,ym:0.0001},
 {t:'H1:ASC-PRC2_P_OUT_DQ',d:prc2P,c:'#8f8f48',r:2,px:[1866.7,2267],xr:[-10,2],yr:[-4.84,60.1],yt:ytPrc2P,ym:10},
 {t:'H1:ASC-SRC1_P_OUT_DQ',d:src1P,c:'#8e5fd0',r:3,px:[43.6,442.6],xr:[-10.27,2],yr:[-248,504],yt:ytSrc1P,ym:100},
 {t:'H1:ASC-SRC2_P_OUT_DQ',d:src2P,c:'#b4d82a',r:3,px:[486.7,911.4],xr:[-10,2],yr:[-133.8,12.6],yt:ytSrc2P,ym:10},
 {t:'H1:ASC-MICH_P_OUT_DQ',d:michP,c:'#c41ec8',r:3,px:[961.3,1379.7],xr:[-10,2],yr:[-92.2,88.6],yt:ytMichP,ym:10},
 {t:'H1:ASC-INP2_Y_OUT_DQ',d:inp2Y,c:'#1f8080',r:3,px:[1433.5,1824],xr:[-10,2],yr:[-0.00886,0.00746],yt:ytInp2Y,ym:0.001},
 {t:'H1:ASC-PRC1_Y_OUT_DQ',d:prc1Y,c:'#a9b86c',r:3,px:[1869.2,2267],xr:[-10,2],yr:[-0.027,0.02416],yt:ytPrc1Y,ym:0.002},
 {t:'H1:ASC-PRC2_Y_OUT_DQ',d:prc2Y,c:'#d8f2d4',r:4,px:[43.6,442.6],xr:[-10.27,2],yr:[-68.7,74.0],yt:ytPrc2Y,ym:10},
 {t:'H1:ASC-SRC1_Y_OUT_DQ',d:src1Y,c:'#b01ee8',r:4,px:[486.7,911.4],xr:[-10,2],yr:[-58.2,16.0],yt:ytSrc1Y,ym:2},
 {t:'H1:ASC-SRC2_Y_OUT_DQ',d:src2Y,c:'#3838e0',r:4,px:[954.6,1379.7],xr:[-10,2],yr:[-86.5,15.0],yt:ytSrc2Y,ym:10},
 {t:'H1:ASC-MICH_Y_OUT_DQ',d:michY,c:'#a2e6a0',r:4,px:[1422.4,1824],xr:[-10,2],yr:[-8.7,10.39],yt:ytMichY,ym:2}
];

const FONT='DejaVu Sans';
const tickFont={family:FONT,size:12,color:'#9c9c9c'};
const GRID='#1e1e1e', MINOR='#0c0c0c', AXLINE='#a6a6a6';
const traces=[], annotations=[];
const layout={width:W,height:H,paper_bgcolor:'#000',plot_bgcolor:'#000',margin:{l:0,r:0,t:0,b:0},showlegend:false,hovermode:false,font:{family:FONT,color:'#a0a0a0'}};

panels.forEach((p,i)=>{
  const n=i+1, sfx=(n===1?'':String(n));
  const xa='x'+sfx, ya='y'+sfx;
  traces.push({type:'scatter',mode:'lines',x:p.d.map(d=>d[0]),y:p.d.map(d=>d[1]),xaxis:xa,yaxis:ya,
    line:{color:p.c,width:1.2,simplify:false},hoverinfo:'skip',cliponaxis:true});
  layout['xaxis'+sfx]={domain:[p.px[0]/W,p.px[1]/W],anchor:ya,range:[p.xr[0]-0.002,p.xr[1]+0.002],
    tickmode:'array',tickvals:xTicks,ticktext:xTicks.map(v=>String(v)),
    showgrid:true,gridcolor:GRID,gridwidth:1,zeroline:false,showline:true,linecolor:AXLINE,linewidth:1.2,
    ticks:'',tickfont:tickFont,fixedrange:true,
    minor:{tickmode:'linear',tick0:0,dtick:1,showgrid:true,gridcolor:MINOR,gridwidth:1,ticks:''}};
  layout['yaxis'+sfx]={domain:[1-rowBot[p.r]/H, 1-rowTop[p.r]/H],anchor:xa,range:p.yr,
    tickmode:'array',tickvals:p.yt,ticktext:p.yt.map(v=>String(v)),
    showgrid:true,gridcolor:GRID,gridwidth:1,zeroline:false,showline:true,linecolor:AXLINE,linewidth:1.2,
    ticks:'',tickfont:tickFont,fixedrange:true,ticklabelstandoff:2,
    minor:{tickmode:'linear',tick0:0,dtick:p.ym,showgrid:true,gridcolor:MINOR,gridwidth:1,ticks:''}};
  annotations.push({text:p.t,xref:xa+' domain',yref:ya+' domain',x:0.5,y:1,xanchor:'center',yanchor:'middle',yshift:15,
    showarrow:false,font:{family:FONT,size:15,color:'#a8a8a8'}});
});
annotations.push({text:'seconds from Fri Jul 26 2019 15:36:12 UTC [1248190590.7000]',xref:'paper',yref:'paper',
  x:0.5,y:1-1297/H,xanchor:'center',yanchor:'middle',showarrow:false,font:{family:FONT,size:16,color:'#cccccc'}});
layout.annotations=annotations;

Plotly.newPlot('chart',traces,layout,{staticPlot:true,displayModeBar:false});
</script></body></html>
